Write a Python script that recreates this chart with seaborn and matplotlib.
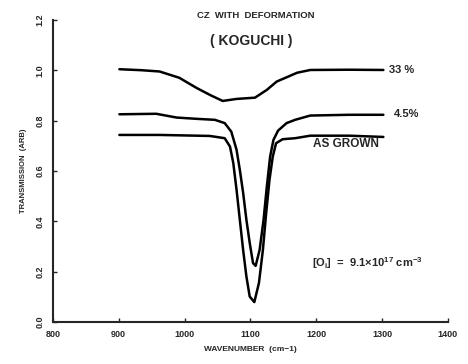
import numpy as np
import pandas as pd
import seaborn as sns
from matplotlib import pyplot as plt

# values
wn_33 = [901, 935, 962, 992, 1018, 1040, 1058, 1079, 1107, 1125, 1140, 1171, 1191, 1250, 1302]
tr_33 = [1.004, 1.000, 0.995, 0.970, 0.930, 0.900, 0.878, 0.886, 0.891, 0.922, 0.955, 0.990, 1.001, 1.002, 1.001]

wn_45 = [901, 957, 988, 1018, 1046, 1061, 1071, 1079, 1084, 1089, 1094, 1099, 1104, 1108,
         1114, 1120, 1125, 1130, 1135, 1142, 1155, 1168, 1191, 1250, 1302]
tr_45 = [0.825, 0.827, 0.812, 0.807, 0.803, 0.790, 0.756, 0.684, 0.604, 0.513, 0.405, 0.314,
         0.234, 0.223, 0.286, 0.405, 0.538, 0.657, 0.723, 0.760, 0.790, 0.803, 0.820, 0.823, 0.823]

wn_ag = [901, 962, 1038, 1046, 1061, 1069, 1074, 1079, 1084, 1089, 1094, 1099, 1106, 1113,
         1119, 1124, 1129, 1134, 1139, 1149, 1168, 1191, 1250, 1302]
tr_ag = [0.743, 0.743, 0.739, 0.736, 0.730, 0.697, 0.632, 0.525, 0.405, 0.286, 0.180, 0.101,
         0.079, 0.155, 0.286, 0.433, 0.564, 0.657, 0.710, 0.726, 0.730, 0.740, 0.740, 0.735]

x_ticks = [800, 900, 1000, 1100, 1200, 1300, 1400]
y_ticks = [0.0, 0.2, 0.4, 0.6, 0.8, 1.0, 1.2]

df = pd.concat([
    pd.DataFrame({'wavenumber': wn_33, 'transmission': tr_33, 'sample': '33 %'}),
    pd.DataFrame({'wavenumber': wn_45, 'transmission': tr_45, 'sample': '4.5%'}),
    pd.DataFrame({'wavenumber': wn_ag, 'transmission': tr_ag, 'sample': 'AS GROWN'}),
])

sns.set_style('ticks')
plt.rcParams['font.family'] = ['Liberation Sans', 'DejaVu Sans']
plt.rcParams['font.weight'] = 'bold'

fig = plt.figure(figsize=(4.68, 3.64), dpi=100)
ax = fig.add_axes([0.113, 0.1154, 0.844, 0.83])

sns.lineplot(data=df, x='wavenumber', y='transmission', hue='sample',
             palette=['black'] * 3, linewidth=1.8, legend=False, ax=ax)

ax.set_xlim(800, 1400)
ax.set_ylim(0, 1.2)
ax.set_xticks(x_ticks)
ax.set_yticks(y_ticks)
ax.set_xticklabels([str(t) for t in x_ticks], fontsize=6.5, fontweight='bold')
ax.set_yticklabels([f'{t:.1f}' for t in y_ticks], fontsize=6.5, fontweight='bold',
                   rotation=90, va='center')
ax.tick_params(direction='in', length=3, width=1, pad=6)
sns.despine(ax=ax)
for s in ['left', 'bottom']:
    ax.spines[s].set_linewidth(1.5)

ax.set_xlabel('WAVENUMBER  (cm\u22121)', fontsize=6, fontweight='bold', labelpad=5)
ax.set_ylabel('TRANSMISSION  (ARB)', fontsize=5.5, fontweight='bold', labelpad=6)

fig.text(0.546, 0.958, 'CZ  WITH  DEFORMATION', fontsize=6.8, fontweight='bold', ha='center', va='center')
fig.text(0.536, 0.888, '( KOGUCHI )', fontsize=10, fontweight='bold', ha='center', va='center')

ax.text(1310, 1.0, '33 %', fontsize=8, fontweight='bold', va='center')
ax.text(1318, 0.825, '4.5%', fontsize=8, fontweight='bold', va='center')
ax.text(1195, 0.705, 'AS GROWN', fontsize=8.5, fontweight='bold', va='center')
ax.text(1193, 0.235, '[O$_\\mathregular{i}$]  =  9.1\u00d710$^{\\mathregular{17}}$ cm$^{\\mathregular{-3}}$',
        fontsize=8, fontweight='bold', va='center')

fig.savefig('out.png', dpi=100)
